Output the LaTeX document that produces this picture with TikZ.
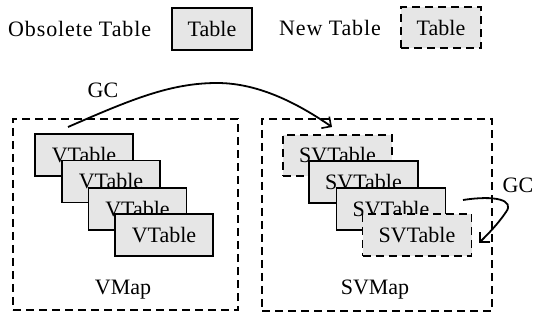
\documentclass[tikz,border=0pt]{standalone}
\usepackage{fontspec}
\setmainfont{Liberation Serif}
\usetikzlibrary{arrows.meta}
\definecolor{tfill}{HTML}{E6E6E6}
\begin{document}
\begin{tikzpicture}[x=1pt,y=-1pt,
  every node/.style={font=\fontsize{22}{25}\selectfont, inner sep=0pt},
  spaced/.style={font=\fontsize{22}{25}\selectfont\addfontfeature{LetterSpace=4}},
  tbl/.style={draw, line width=1.8pt, fill=tfill, minimum height=42pt},
  vtbl/.style={tbl, minimum width=98pt},
  svtbl/.style={tbl, minimum width=109pt},
  newstyle/.style={dash pattern=on 8pt off 5pt},
  mapbox/.style={draw, line width=1.8pt, dash pattern=on 8pt off 5pt},
  gcarrow/.style={line width=1.8pt, -{Straight Barb[length=7pt,width=14pt,line width=1.6pt]}}]
\useasboundingbox (0,0) rectangle (535,320);
% legend
\node[spaced, anchor=west] (obs) at (8,29) {Obsolete Table};
\node[tbl, minimum width=80pt] (lt1) at (212,29) {Table};
\node[spaced] (newl) at (330,28) {New Table};
\node[tbl, newstyle, minimum width=80pt, minimum height=41pt] (lt2) at (441,27.5) {Table};
% maps
\node[mapbox, minimum width=225pt, minimum height=191pt] (vmap) at (125.5,214.5) {};
\node[mapbox, minimum width=230pt, minimum height=192pt] (svmap) at (377,215) {};
\node (vmaplbl) at (123,290) {VMap};
\node (svmaplbl) at (375,290) {SVMap};
% VTables
\node[vtbl] (v1) at (84,155) {VTable};
\node[vtbl] (v2) at (111,181.5) {VTable};
\node[vtbl] (v3) at (137.5,209) {VTable};
\node[vtbl] (v4) at (164,235) {VTable};
% SVTables
\node[svtbl, newstyle, minimum height=41pt] (sv1) at (337.5,155.5) {SVTable};
\node[svtbl] (sv2) at (363.5,182) {SVTable};
\node[svtbl] (sv3) at (391,209) {SVTable};
\node[svtbl, newstyle] (sv4) at (417,235) {SVTable};
% GC arrows
\coordinate (ga) at (68,127);
\coordinate (gb) at (332,127);
\draw[gcarrow] (ga) .. controls (130,100) and (170,83) .. (217,83)
  .. controls (260,83) and (300,105) .. (gb);
\node (gc1) at (103,90) {GC};
\coordinate (gc) at (463,200);
\coordinate (gd) at (479,243);
\draw[gcarrow] (gc) .. controls (495,195) and (515,200) .. (506,212)
  .. controls (498,224) and (488,234) .. (gd);
\node (gc2) at (518,185) {GC};
\end{tikzpicture}
\end{document}
